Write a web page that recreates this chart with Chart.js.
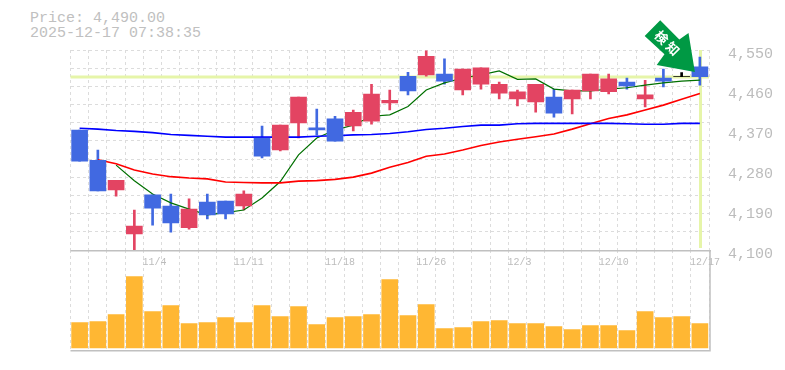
<!DOCTYPE html>
<html><head><meta charset="utf-8">
<style>
html,body{margin:0;padding:0;background:#fff;}
#wrap{position:relative;width:785px;height:370px;overflow:hidden;}
canvas{position:absolute;left:0;}
#head{position:absolute;left:30px;top:11px;font:15px/15px "Liberation Mono",monospace;color:#c0c0c0;white-space:pre;}
</style>
<script src="https://cdn.jsdelivr.net/npm/chart.js@4"></script>
</head><body>
<div id="wrap">
<div id="head">Price: 4,490.00
2025-12-17 07:38:35</div>
<canvas id="vol" width="785" height="130" style="top:240px"></canvas>
<canvas id="price" width="785" height="270" style="top:0"></canvas>
</div>
<script>
const dates=['10/29','10/30','10/31','11/3','11/4','11/5','11/6','11/7','11/10','11/11','11/12','11/13','11/14','11/17','11/18','11/19','11/20','11/21','11/25','11/26','11/27','11/28','12/1','12/2','12/3','12/4','12/5','12/8','12/9','12/10','12/11','12/12','12/15','12/16','12/17'];
const shownDates=['11/4','11/11','11/18','11/26','12/3','12/10','12/17'];
const open =[4370,4302,4235,4136,4224,4199,4150,4208,4210,4199,4352,4325,4386,4375,4395,4379,4390,4431,4491,4494,4496,4460,4473,4453,4440,4433,4444,4440,4458,4456,4478,4440,4487,4490,4512];
const close=[4300,4233,4257,4154,4194,4161,4192,4179,4181,4226,4311,4381,4444,4370,4345,4410,4451,4437,4458,4536,4480,4507,4510,4473,4456,4473,4408,4460,4496,4485,4469,4449,4480,4490,4490];
const high =[4370,4325,4257,4190,4224,4226,4215,4226,4210,4233,4379,4381,4444,4417,4401,4415,4473,4460,4500,4548,4530,4507,4510,4478,4460,4473,4462,4460,4496,4496,4487,4482,4507,4499,4534];
const low  =[4300,4233,4221,4100,4156,4140,4147,4170,4170,4190,4307,4323,4352,4359,4345,4368,4383,4415,4449,4491,4473,4449,4462,4440,4424,4410,4399,4406,4440,4451,4462,4422,4467,4490,4471];
const maShort=[null,null,4291,4256,4226,4206,4192,4179,4184,4190,4217,4254,4314,4352,4370,4381,4401,4404,4423,4460,4476,4487,4494,4503,4484,4485,4462,4458,4458,4462,4465,4471,4476,4480,4482];
const maMid=[null,4303,4294,4280,4271,4265,4262,4260,4253,4252,4251,4251,4255,4256,4259,4264,4273,4286,4297,4311,4316,4325,4335,4343,4349,4355,4361,4372,4384,4396,4404,4415,4426,4439,4452];
const maLong=[4374,4372,4369,4367,4364,4360,4358,4356,4354,4354,4354,4354,4354,4356,4357,4359,4360,4362,4366,4371,4374,4378,4381,4381,4384,4385,4385,4385,4385,4385,4384,4383,4383,4385,4385];
const volume=[25.3,26.3,33.3,71.3,36.3,42.3,24.3,25.3,30.3,25.3,42.3,31.3,41.3,23.3,30.3,31.3,33.3,68.3,32.3,43.3,19.3,20.3,26.3,27.3,24.3,24.3,21.3,18.3,22.3,22.3,17.3,36.3,30.3,31.3,24.3];
const priceTicks=[4100,4190,4280,4370,4460,4550];
const lastPrice=4490;
const priceMin=4100, priceMax=4550, gridDivisions=11;

const GRID='#dcdcdc', AXIS='#c0c0c0', TXT='#bcbcbc', UP='#e34462', DOWN='#4169e1', FLAT='#000000', VOL='#ffb733', MARK='#e6f5a9', ARROW='#009944';
const mono='"Liberation Mono", monospace';
const candleColor=i=>close[i]>open[i]?UP:(close[i]<open[i]?DOWN:FLAT);
const colors=dates.map((_,i)=>candleColor(i));

const guide={id:'guide',beforeDatasetsDraw(c){
  const {ctx,chartArea:a,scales:{x,y}}=c;
  ctx.save();ctx.fillStyle=MARK;
  const py=y.getPixelForValue(lastPrice), px=x.getPixelForValue(dates.length-1);
  ctx.fillRect(a.left,Math.round(py)-1.5,a.right-a.left,3);
  ctx.fillRect(Math.round(px)-1,a.top,3,a.bottom-a.top-2);
  ctx.restore();
  ctx.save();ctx.strokeStyle=AXIS;ctx.lineWidth=1.5;ctx.beginPath();
  ctx.moveTo(a.left,a.bottom+.75);ctx.lineTo(a.right+2,a.bottom+.75);ctx.stroke();ctx.restore();
}};
const arrow={id:'arrow',afterDatasetsDraw(c){
  const {ctx,scales:{x,y}}=c;
  const tx=x.getPixelForValue(dates.length-1)-5, ty=y.getPixelForValue(lastPrice)-4.7;
  ctx.save();ctx.translate(tx,ty);ctx.rotate(Math.PI/4);
  ctx.fillStyle=ARROW;ctx.beginPath();
  ctx.moveTo(0,0);ctx.lineTo(-32,-23);ctx.lineTo(-34,-12);ctx.lineTo(-61,-12);ctx.lineTo(-61,10);ctx.lineTo(-34,9);ctx.lineTo(-32,22);ctx.closePath();ctx.fill();
  ctx.fillStyle='#fff';ctx.font='bold 13px "Noto Sans CJK JP"';ctx.textAlign='center';ctx.textBaseline='middle';
  ctx.fillText('検',-48,-1);ctx.fillText('知',-32,-1);
  ctx.restore();
}};

new Chart(document.getElementById('price'),{
  data:{labels:dates,datasets:[
    {type:'line',label:'long',data:maLong,yAxisID:'y',borderColor:'#0000ff',borderWidth:1.6,pointRadius:0,tension:0,order:1},
    {type:'line',label:'mid',data:maMid,yAxisID:'y',borderColor:'#ff0000',borderWidth:1.6,pointRadius:0,tension:0,order:1},
    {type:'line',label:'short',data:maShort,yAxisID:'y',borderColor:'#007000',borderWidth:1.2,pointRadius:0,tension:0,order:1},
    {type:'bar',label:'wick',data:dates.map((_,i)=>[low[i],high[i]]),yAxisID:'y',backgroundColor:colors,barThickness:2,grouped:false,order:3},
    {type:'bar',label:'body',data:dates.map((_,i)=>[open[i],close[i]]),yAxisID:'y',backgroundColor:colors,barThickness:16,grouped:false,order:0}
  ]},
  options:{
    responsive:false,animation:false,
    layout:{padding:{top:50,left:70.5,right:0,bottom:0}},
    plugins:{legend:{display:false},title:{display:false},tooltip:{enabled:false}},
    scales:{
      x:{type:'category',offset:true,afterFit(s){s.height=20;},
        grid:{color:GRID,lineWidth:1,offset:true,drawTicks:false},
        border:{display:false,dash:[3,3]},
        ticks:{autoSkip:false,maxRotation:0,minRotation:0,align:'start',labelOffset:-10,padding:6,color:TXT,font:{family:mono,size:10},
          callback(v,i){const d=dates[i];return shownDates.includes(d)?d:'';}}},
      y:{type:'linear',position:'right',min:priceMin,max:priceMax,afterFit(s){s.width=76;},
        afterBuildTicks(s){s.ticks=priceTicks.map(value=>({value}));},
        grid:{display:false},border:{display:false},
        ticks:{color:TXT,padding:11,labelOffset:4,font:{family:mono,size:15},callback:v=>v.toLocaleString('en-US')}},
      yGrid:{type:'linear',position:'left',display:true,min:priceMin,max:priceMax,
        afterBuildTicks(s){s.ticks=Array.from({length:gridDivisions+1},(_,k)=>({value:priceMin+k*(priceMax-priceMin)/gridDivisions}));},
        afterFit(s){s.width=0;},
        grid:{color:GRID,lineWidth:1,drawTicks:false},border:{display:false,dash:[3,3]},
        ticks:{display:false}}
    }
  },
  plugins:[guide,arrow]
});

new Chart(document.getElementById('vol'),{
  data:{labels:dates,datasets:[{type:'bar',data:volume,backgroundColor:VOL,barThickness:16}]},
  options:{
    responsive:false,animation:false,
    layout:{padding:{top:10,left:70.5,right:76,bottom:20}},
    plugins:{legend:{display:false},tooltip:{enabled:false}},
    scales:{
      x:{offset:true,afterFit(s){s.height=0;},grid:{color:GRID,offset:true,drawTicks:false},border:{display:false,dash:[3,3]},ticks:{display:false}},
      y:{min:-2,max:98,grid:{display:false},border:{display:false},ticks:{display:false},afterFit(s){s.width=0;}}
    }
  },
  plugins:[{id:'frame',afterDraw(c){
    const {ctx,chartArea:a}=c;ctx.save();ctx.strokeStyle=AXIS;ctx.lineWidth=1.5;ctx.beginPath();
    ctx.moveTo(a.left,a.bottom+.75);ctx.lineTo(a.right+1,a.bottom+.75);ctx.lineTo(a.right+1,a.top);ctx.stroke();ctx.restore();
  }}]
});
</script>
</body></html>
